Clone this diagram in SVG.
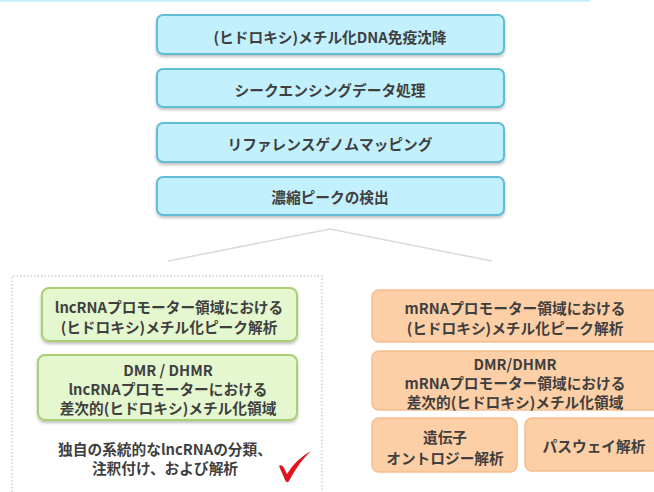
<svg xmlns="http://www.w3.org/2000/svg" width="654" height="492" viewBox="0 0 654 492">
<defs>
<filter id="sh" x="-10%" y="-20%" width="120%" height="150%">
<feDropShadow dx="0" dy="2" stdDeviation="1.5" flood-color="#000" flood-opacity="0.25"/>
</filter>
<style>
text{font-family:"Noto Sans CJK JP","Noto Sans",sans-serif;font-weight:bold;fill:#3f3f3f;font-size:14.7px;text-anchor:middle;dominant-baseline:central}
.blue{fill:#c2f0fd;stroke:#62bcd6;stroke-width:2}
.green{fill:#e5f7cf;stroke:#a9d171;stroke-width:2}
.orange{fill:#fdcfa6;stroke:#f6bd8d;stroke-width:1.5}
.conn{fill:none;stroke:#dadada;stroke-width:1.5}
.dot{fill:none;stroke:#dcdcdc;stroke-width:2;stroke-dasharray:1.5 2}
</style>
</defs>
<rect x="0" y="0" width="654" height="492" fill="#fff"/>
<line x1="0" y1="0.8" x2="590" y2="0.8" stroke="#c5f0fb" stroke-width="2"/>

<g id="b1"><rect class="blue" x="157" y="15" width="347" height="39" rx="6" filter="url(#sh)"/><text x="330" y="36">(ヒドロキシ)メチル化DNA免疫沈降</text></g>
<g id="b2"><rect class="blue" x="157" y="69" width="347" height="38" rx="6" filter="url(#sh)"/><text x="330" y="89">シークエンシングデータ処理</text></g>
<g id="b3"><rect class="blue" x="157" y="123" width="347" height="39" rx="6" filter="url(#sh)"/><text x="330" y="143">リファレンスゲノムマッピング</text></g>
<g id="b4"><rect class="blue" x="157" y="177" width="347" height="38" rx="6" filter="url(#sh)"/><text x="330" y="196">濃縮ピークの検出</text></g>

<g id="connectors"><polyline class="conn" points="168,261 330,229 492,261"/></g>

<g id="panel"><polyline class="dot" points="12,492 12,276 322,276 322,492"/></g>

<g id="g1"><rect class="green" x="42" y="288" width="255" height="53" rx="7" filter="url(#sh)"/><text x="169" y="306">lncRNAプロモーター領域における</text><text x="169" y="326">(ヒドロキシ)メチル化ピーク解析</text></g>
<g id="g2"><rect class="green" x="38" y="355" width="259" height="65" rx="7" filter="url(#sh)"/><text x="168" y="369.5">DMR / DHMR</text><text x="168" y="388.5">lncRNAプロモーターにおける</text><text x="168" y="407.5">差次的(ヒドロキシ)メチル化領域</text></g>
<g id="t1"><text x="165" y="448">独自の系統的なlncRNAの分類、</text><text x="165" y="467">注釈付け、および解析</text></g>
<g id="check"><path d="M279,466 Q282,464 284,468 L287,474 Q296,459 311,451 Q299,462 289,481 Q287,484 285,480 Z" fill="#e0141e"/></g>

<g id="o1"><rect class="orange" x="372" y="290" width="290" height="52" rx="7"/><text x="515" y="307">mRNAプロモーター領域における</text><text x="515" y="327">(ヒドロキシ)メチル化ピーク解析</text></g>
<g id="o2"><rect class="orange" x="372" y="351" width="290" height="59" rx="7"/><text x="515" y="363">DMR/DHMR</text><text x="515" y="382">mRNAプロモーター領域における</text><text x="515" y="401">差次的(ヒドロキシ)メチル化領域</text></g>
<g id="o3"><rect class="orange" x="372" y="418" width="145" height="54" rx="7"/><text x="445" y="436">遺伝子</text><text x="445" y="457">オントロジー解析</text></g>
<g id="o4"><rect class="orange" x="525" y="418" width="140" height="53" rx="7"/><text x="594" y="445">パスウェイ解析</text></g>
</svg>
